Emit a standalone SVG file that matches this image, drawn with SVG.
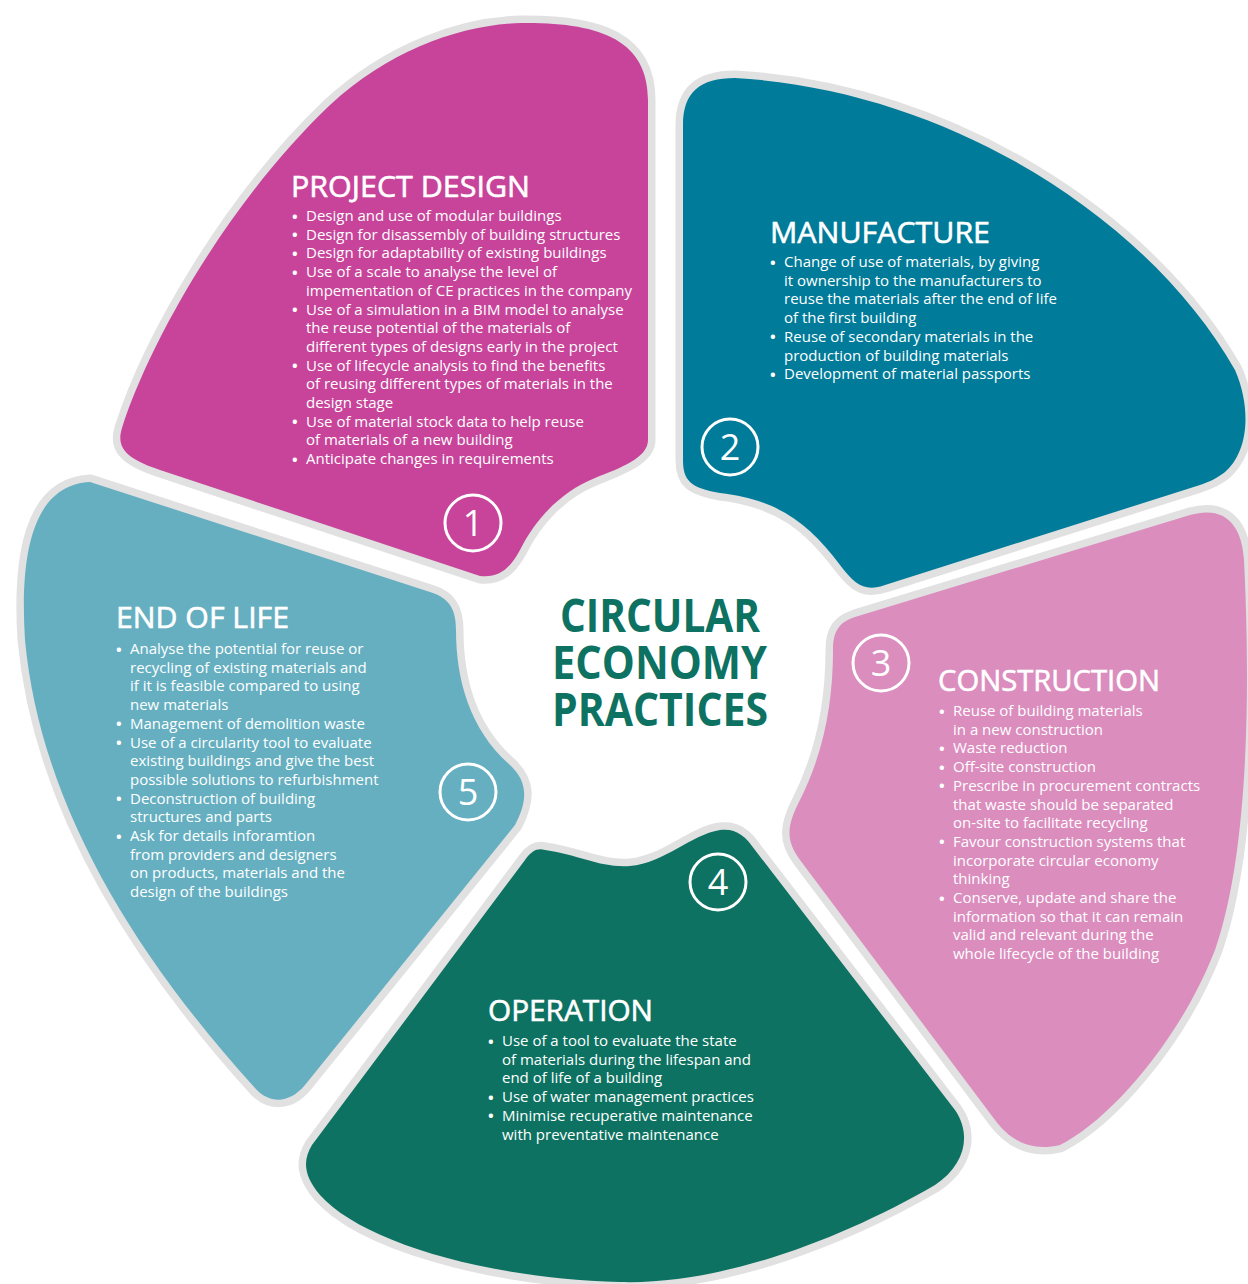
<svg xmlns="http://www.w3.org/2000/svg" width="1248" height="1284" viewBox="0 0 1248 1284">
<style>
.petal{stroke:#e1e1e1;stroke-width:15;stroke-linejoin:round;paint-order:stroke}
.title{font-family:"Open Sans","Liberation Sans",sans-serif;font-size:30px;fill:#fff;stroke:#fff;stroke-width:0.6}
.body{font-family:"Open Sans","Liberation Sans",sans-serif;font-size:15px;fill:#fff}
.bul{font-family:"Open Sans","Liberation Sans",sans-serif;font-size:15px;font-weight:bold;fill:#fff}
.num{fill:none;stroke:#fff;stroke-width:3}
.digit{font-family:"Open Sans","Liberation Sans",sans-serif;font-size:36px;fill:#fff;text-anchor:middle}
.center{font-family:"Open Sans","Liberation Sans",sans-serif;font-weight:bold;font-size:46px;fill:#0d7261}
</style>
<rect width="1248" height="1284" fill="#fff"/>
<g id="connectors"/>
<g id="node-project-design">
<path class="petal" fill="#c7449a" d="M 521,23 C 600,22 648,40 648,100 L 648,440 C 648,458 620,468 595,478 C 560,492 535,520 520,550 C 510,568 500,578 480,576 L 160,470 C 130,460 115,450 122,428 C 150,340 230,200 330,105 C 390,50 460,25 521,23 Z"/>
<text class="title" x="291" y="197" textLength="239" lengthAdjust="spacingAndGlyphs">PROJECT DESIGN</text>
<text class="bul"><tspan x="292" y="221.5">•</tspan><tspan x="292" y="240.2">•</tspan><tspan x="292" y="258.9">•</tspan><tspan x="292" y="277.6">•</tspan><tspan x="292" y="315">•</tspan><tspan x="292" y="371.1">•</tspan><tspan x="292" y="427.2">•</tspan><tspan x="292" y="464.6">•</tspan></text>
<text class="body"><tspan x="306" y="221">Design and use of modular buildings</tspan><tspan x="306" y="239.7">Design for disassembly of building structures</tspan><tspan x="306" y="258.4">Design for adaptability of existing buildings</tspan><tspan x="306" y="277.1">Use of a scale to analyse the level of</tspan><tspan x="306" y="295.8">impementation of CE practices in the company</tspan><tspan x="306" y="314.5">Use of a simulation in a BIM model to analyse</tspan><tspan x="306" y="333.2">the reuse potential of the materials of</tspan><tspan x="306" y="351.9">different types of designs early in the project</tspan><tspan x="306" y="370.6">Use of lifecycle analysis to find the benefits</tspan><tspan x="306" y="389.3">of reusing different types of materials in the</tspan><tspan x="306" y="408">design stage</tspan><tspan x="306" y="426.7">Use of material stock data to help reuse</tspan><tspan x="306" y="445.4">of materials of a new building</tspan><tspan x="306" y="464.1">Anticipate changes in requirements</tspan></text>
<circle class="num" cx="473" cy="523" r="28"/>
<text class="digit" x="473" y="536">1</text>
</g>
<g id="node-manufacture">
<path class="petal" fill="#007b99" d="M 735,78 C 950,90 1150,220 1235,370 C 1248,400 1248,430 1240,450 C 1232,470 1220,478 1200,485 L 885,585 C 865,592 855,585 840,565 C 810,525 780,500 720,493 C 690,488 683,480 683,460 L 683,125 C 683,92 700,78 735,78 Z"/>
<text class="title" x="770" y="243" textLength="220" lengthAdjust="spacingAndGlyphs">MANUFACTURE</text>
<text class="bul"><tspan x="770" y="267.5">•</tspan><tspan x="770" y="342.3">•</tspan><tspan x="770" y="379.7">•</tspan></text>
<text class="body"><tspan x="784" y="267">Change of use of materials, by giving</tspan><tspan x="784" y="285.7">it ownership to the manufacturers to</tspan><tspan x="784" y="304.4">reuse the materials after the end of life</tspan><tspan x="784" y="323.1">of the first building</tspan><tspan x="784" y="341.8">Reuse of secondary materials in the</tspan><tspan x="784" y="360.5">production of building materials</tspan><tspan x="784" y="379.2">Development of material passports</tspan></text>
<circle class="num" cx="730" cy="447" r="28"/>
<text class="digit" x="730" y="460">2</text>
</g>
<g id="node-construction">
<path class="petal" fill="#db8dbe" d="M 855,617 L 1190,515 C 1225,505 1242,525 1244,560 C 1250,680 1250,850 1215,950 C 1180,1040 1110,1120 1060,1145 C 1030,1152 1010,1140 995,1120 L 800,860 C 785,840 787,825 800,800 C 825,750 833,700 833,650 C 833,630 840,622 855,617 Z"/>
<text class="title" x="938" y="691" textLength="222" lengthAdjust="spacingAndGlyphs">CONSTRUCTION</text>
<text class="bul"><tspan x="939" y="716.5">•</tspan><tspan x="939" y="753.9">•</tspan><tspan x="939" y="772.6">•</tspan><tspan x="939" y="791.3">•</tspan><tspan x="939" y="847.4">•</tspan><tspan x="939" y="903.5">•</tspan></text>
<text class="body"><tspan x="953" y="716">Reuse of building materials</tspan><tspan x="953" y="734.7">in a new construction</tspan><tspan x="953" y="753.4">Waste reduction</tspan><tspan x="953" y="772.1">Off-site construction</tspan><tspan x="953" y="790.8">Prescribe in procurement contracts</tspan><tspan x="953" y="809.5">that waste should be separated</tspan><tspan x="953" y="828.2">on-site to facilitate recycling</tspan><tspan x="953" y="846.9">Favour construction systems that</tspan><tspan x="953" y="865.6">incorporate circular economy</tspan><tspan x="953" y="884.3">thinking</tspan><tspan x="953" y="903">Conserve, update and share the</tspan><tspan x="953" y="921.7">information so that it can remain</tspan><tspan x="953" y="940.4">valid and relevant during the</tspan><tspan x="953" y="959.1">whole lifecycle of the building</tspan></text>
<circle class="num" cx="881" cy="663" r="28"/>
<text class="digit" x="881" y="676">3</text>
</g>
<g id="node-operation">
<path class="petal" fill="#0d7261" d="M 545,850 C 580,855 600,868 630,866 C 665,863 690,835 720,830 C 735,828 745,835 755,850 L 955,1110 C 972,1135 965,1165 935,1185 C 840,1240 720,1285 620,1282 C 480,1278 360,1240 320,1195 C 303,1175 303,1160 312,1145 L 525,860 C 532,850 538,848 545,850 Z"/>
<text class="title" x="488" y="1021" textLength="165" lengthAdjust="spacingAndGlyphs">OPERATION</text>
<text class="bul"><tspan x="488" y="1046.5">•</tspan><tspan x="488" y="1102.6">•</tspan><tspan x="488" y="1121.3">•</tspan></text>
<text class="body"><tspan x="502" y="1046">Use of a tool to evaluate the state</tspan><tspan x="502" y="1064.7">of materials during the lifespan and</tspan><tspan x="502" y="1083.4">end of life of a building</tspan><tspan x="502" y="1102.1">Use of water management practices</tspan><tspan x="502" y="1120.8">Minimise recuperative maintenance</tspan><tspan x="502" y="1139.5">with preventative maintenance</tspan></text>
<circle class="num" cx="718" cy="882" r="28"/>
<text class="digit" x="718" y="895">4</text>
</g>
<g id="node-end-of-life">
<path class="petal" fill="#66afc1" d="M 90,482 L 430,592 C 450,598 456,610 456,630 C 456,680 470,730 510,765 C 528,782 528,800 515,825 L 305,1085 C 290,1103 270,1105 255,1088 C 130,950 40,800 25,640 C 20,560 30,485 90,482 Z"/>
<text class="title" x="116" y="628" textLength="173" lengthAdjust="spacingAndGlyphs">END OF LIFE</text>
<text class="bul"><tspan x="116" y="654.5">•</tspan><tspan x="116" y="729.3">•</tspan><tspan x="116" y="748">•</tspan><tspan x="116" y="804.1">•</tspan><tspan x="116" y="841.5">•</tspan></text>
<text class="body"><tspan x="130" y="654">Analyse the potential for reuse or</tspan><tspan x="130" y="672.7">recycling of existing materials and</tspan><tspan x="130" y="691.4">if it is feasible compared to using</tspan><tspan x="130" y="710.1">new materials</tspan><tspan x="130" y="728.8">Management of demolition waste</tspan><tspan x="130" y="747.5">Use of a circularity tool to evaluate</tspan><tspan x="130" y="766.2">existing buildings and give the best</tspan><tspan x="130" y="784.9">possible solutions to refurbishment</tspan><tspan x="130" y="803.6">Deconstruction of building</tspan><tspan x="130" y="822.3">structures and parts</tspan><tspan x="130" y="841">Ask for details inforamtion</tspan><tspan x="130" y="859.7">from providers and designers</tspan><tspan x="130" y="878.4">on products, materials and the</tspan><tspan x="130" y="897.1">design of the buildings</tspan></text>
<circle class="num" cx="468" cy="792" r="28"/>
<text class="digit" x="468" y="805">5</text>
</g>
<g id="node-center">
<text class="center" x="560" y="632" textLength="200" lengthAdjust="spacingAndGlyphs">CIRCULAR</text>
<text class="center" x="552" y="679" textLength="215" lengthAdjust="spacingAndGlyphs">ECONOMY</text>
<text class="center" x="552" y="726" textLength="216" lengthAdjust="spacingAndGlyphs">PRACTICES</text>
</g>
</svg>
